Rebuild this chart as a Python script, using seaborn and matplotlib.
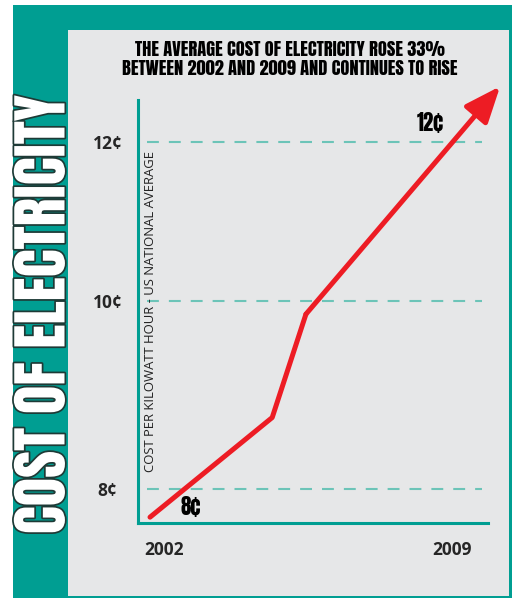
import numpy as np
import pandas as pd
import matplotlib
matplotlib.use("Agg")
import matplotlib.pyplot as plt
import matplotlib.patheffects as PathEffects
from matplotlib.patches import Rectangle
from matplotlib import font_manager as fm
import seaborn as sns

# data
years = [2001.66, 2004.63, 2005.45, 2010.17]
cost = [7.70, 8.76, 9.86, 12.70]
tick_cents = [8, 10, 12]
tick_labels = ['8¢', '10¢', '12¢']
year_ticks = [2002, 2009]
year_labels = ['2002', '2009']
title = "THE AVERAGE COST OF ELECTRICITY ROSE 33%\nBETWEEN 2002 AND 2009 AND CONTINUES TO RISE"
side_title = "COST OF ELECTRICITY"
ylabel = "COST PER KILOWATT HOUR - US NATIONAL AVERAGE"

TEAL = '#009E92'
GRID = '#6CC4B8'
PANEL = '#E6E7E8'
RED = '#ED1C24'

installed = {f.name for f in fm.fontManager.ttflist}
def pick(*names):
    for n in names:
        if n in installed:
            return n
    return 'DejaVu Sans'
HEAVY = pick('Anton', 'League Gothic', 'Oswald', 'Bebas Neue', 'Liberation Sans Narrow')
BODY = pick('Open Sans', 'Noto Sans', 'Lato')

sns.set_style('white')
plt.rcParams['font.family'] = [BODY, 'DejaVu Sans']

W, H = 514, 599
fig = plt.figure(figsize=(W / 100, H / 100), dpi=100)
fig.patch.set_facecolor('white')

def box(x0, y0, x1, y1, color):
    # pixel box, origin top-left
    fig.patches.append(Rectangle((x0 / W, 1 - y1 / H), (x1 - x0) / W, (y1 - y0) / H,
                                 transform=fig.transFigure, facecolor=color, lw=0, zorder=-10))

box(13, 5, 512, 598, TEAL)
box(68, 30, 509, 596, PANEL)

ax = fig.add_axes([138 / W, 1 - 523 / H, 350 / W, 423 / H])
ax.set_facecolor('none')
ax.set_zorder(2)

# the original axis is not evenly spaced: 8-10 is taller than 10-12
def fwd(y):
    y = np.asarray(y, float)
    return np.where(y < 10, (y - 10) * 94.0, (y - 10) * 79.5)

def inv(p):
    p = np.asarray(p, float)
    return np.where(p < 0, 10 + p / 94.0, 10 + p / 79.5)

ax.set_yscale('function', functions=(fwd, inv))
ax.set_ylim(7.638, 12.528)
ax.set_xlim(2001.368, 2009.875)
ax.minorticks_off()

for c in tick_cents:
    ax.axhline(c, xmin=9 / 350, xmax=344 / 350, color=GRID, lw=1.5,
               ls=(0, (5.7, 4.8)), zorder=1)

df = pd.DataFrame({'year': years, 'cost': cost})
sns.lineplot(data=df.iloc[:3], x='year', y='cost', color=RED, lw=3.6, ax=ax,
             solid_capstyle='round', clip_on=False, zorder=3)
ax.annotate('', xy=(years[-1], cost[-1]), xytext=(years[2], cost[2]),
            arrowprops=dict(arrowstyle='-|>,head_length=1.1,head_width=0.45', color=RED,
                            lw=3.6, shrinkA=0, shrinkB=0, mutation_scale=20),
            annotation_clip=False, zorder=3)

ax.annotate(tick_labels[0], xy=(years[0], cost[0]), xytext=(29.5, 7.2), textcoords='offset points',
            ha='center', va='center', family=HEAVY, fontweight='bold', fontsize=15,
            color='black', annotation_clip=False)
ax.annotate(tick_labels[2], xy=(years[-1], cost[-1]), xytext=(-50.4, -26.6), textcoords='offset points',
            ha='center', va='center', family=HEAVY, fontweight='bold', fontsize=15,
            color='black', annotation_clip=False)

ax.set_yticks(tick_cents, tick_labels)
ax.set_xticks(year_ticks, year_labels)
ax.tick_params(length=0, labelsize=12.5)
ax.tick_params(axis='y', pad=22)
ax.tick_params(axis='x', pad=13)
for t in ax.get_yticklabels() + ax.get_xticklabels():
    t.set_fontweight('bold')
for t in ax.get_yticklabels():
    t.set_ha('center')
ax.set_xlabel('')
ax.set_ylabel('')

for s in ['top', 'right']:
    ax.spines[s].set_visible(False)
for s in ['left', 'bottom']:
    ax.spines[s].set_color(TEAL)
    ax.spines[s].set_linewidth(2.2)

ylab = ax.text(12.5 / 350, (523 - 311) / 423, ylabel, transform=ax.transAxes, rotation=90,
               ha='center', va='center', fontsize=9, color='#222222')

ttl = fig.text(290 / W, 1 - 59 / H, title, ha='center', va='center', family=HEAVY,
               fontweight='bold', fontsize=14, linespacing=1.1, color='black')

side = fig.text(43 / W, 1 - 314 / H, side_title, rotation=90, ha='center', va='center',
                family=HEAVY, fontsize=40, color='white')
side.set_path_effects([PathEffects.withStroke(linewidth=2.5, foreground='#1E3A36')])

# fit text lengths to the reference
fig.canvas.draw()
def fit(txt, target, vertical=False):
    bb = txt.get_window_extent()
    size = bb.height if vertical else bb.width
    txt.set_fontsize(txt.get_fontsize() * target / size)

fit(side, 438, vertical=True)
fit(ttl, 338)
fit(ylab, 325, vertical=True)

fig.savefig('out.png', dpi=100, facecolor='white')
